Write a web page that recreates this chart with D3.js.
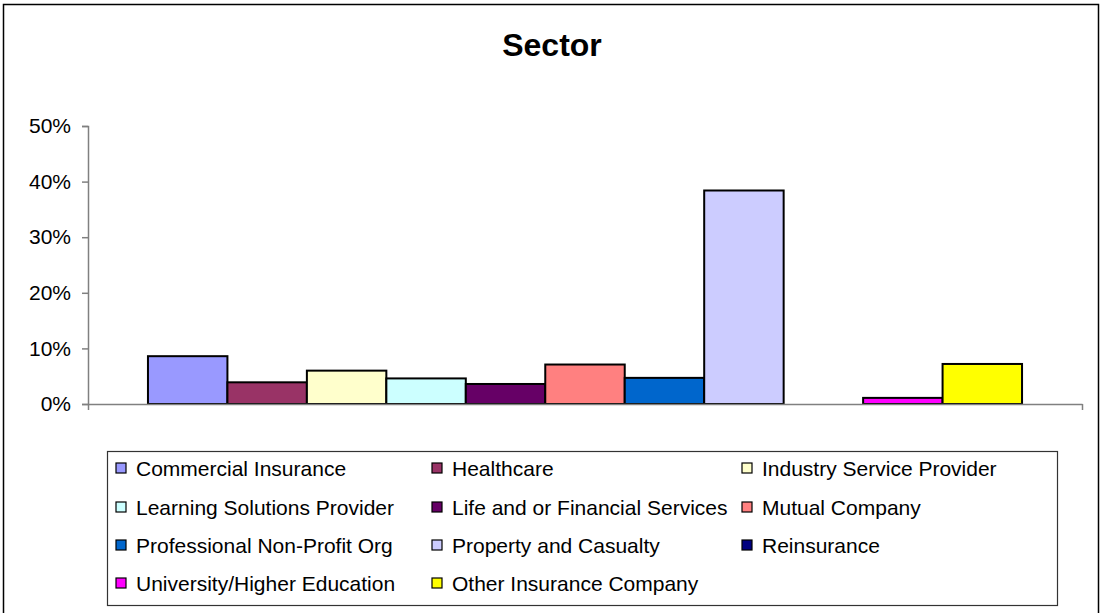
<!DOCTYPE html>
<html>
<head>
<meta charset="utf-8">
<script src="https://cdn.jsdelivr.net/npm/d3@7"></script>
<style>
  body { margin: 0; background: #fff; }
  text { font-family: "Liberation Sans", Arial, sans-serif; }
</style>
</head>
<body>
<svg id="chart"></svg>
<script>
const categories = ["Sector"];
const seriesNames = [
  "Commercial Insurance", "Healthcare", "Industry Service Provider",
  "Learning Solutions Provider", "Life and or Financial Services", "Mutual Company",
  "Professional Non-Profit Org", "Property and Casualty", "Reinsurance",
  "University/Higher Education", "Other Insurance Company"
];
const seriesValues = [0.086, 0.039, 0.060, 0.046, 0.036, 0.071, 0.047, 0.384, 0, 0.011, 0.072];
const seriesColors = [
  "#9999ff", "#993366", "#ffffcc", "#ccffff", "#660066", "#ff8080",
  "#0066cc", "#ccccff", "#000080", "#ff00ff", "#ffff00"
];
const yTicks = [0, 0.1, 0.2, 0.3, 0.4, 0.5];

const width = 1100, height = 613;
const plot = {left: 88, right: 1082, top: 126, bottom: 404};

const svg = d3.select("#chart").attr("width", width).attr("height", height);

// outer chart border
svg.append("rect")
  .attr("x", 3.5).attr("y", 4.5)
  .attr("width", 1095).attr("height", 620)
  .attr("fill", "none").attr("stroke", "#000").attr("stroke-width", 1.5);

svg.append("text")
  .attr("x", 552).attr("y", 56)
  .attr("text-anchor", "middle")
  .attr("font-size", "32px").attr("font-weight", "bold")
  .text("Sector");

const y = d3.scaleLinear().domain([0, 0.5]).range([plot.bottom, plot.top]);

const x0 = d3.scaleBand()
  .domain(categories)
  .range([plot.left, plot.right])
  .paddingOuter(0.0686)
  .paddingInner(0);

const x1 = d3.scaleBand()
  .domain(seriesNames)
  .range([0, x0.bandwidth()])
  .padding(0);

// y axis
const yAxis = d3.axisLeft(y)
  .tickValues(yTicks)
  .tickFormat(d3.format(".0%"))
  .tickSize(6)
  .tickPadding(11);

const gy = svg.append("g")
  .attr("transform", `translate(${plot.left},0)`)
  .call(yAxis);
gy.select(".domain").attr("stroke", "#808080").attr("stroke-width", 1.5);
gy.selectAll(".tick line").attr("stroke", "#808080").attr("stroke-width", 1.5);
gy.selectAll(".tick text")
  .attr("font-size", "21px")
  .attr("font-family", "Liberation Sans, Arial, sans-serif")
  .attr("fill", "#000");

// bars
const rows = seriesNames.map((name, i) => ({name, value: seriesValues[i], color: seriesColors[i]}));

const g = svg.selectAll(".cat")
  .data(categories)
  .enter()
  .append("g")
  .attr("class", "cat")
  .attr("transform", (d) => `translate(${x0(d)},0)`);

g.selectAll("rect")
  .data(rows.filter((d) => d.value > 0))
  .enter()
  .append("rect")
  .attr("x", (d) => x1(d.name))
  .attr("y", (d) => y(d.value))
  .attr("width", x1.bandwidth())
  .attr("height", (d) => y(0) - y(d.value))
  .attr("fill", (d) => d.color)
  .attr("stroke", "#000")
  .attr("stroke-width", 2);

// x axis line with end ticks
const xAxis = d3.axisBottom(d3.scaleLinear().domain([0, 1]).range([plot.left, plot.right]))
  .tickValues([0, 1])
  .tickFormat("")
  .tickSize(6)
  .tickSizeOuter(0);
const gx = svg.append("g")
  .attr("transform", `translate(0,${plot.bottom})`)
  .call(xAxis);
gx.select(".domain").attr("stroke", "#808080").attr("stroke-width", 1.5);
gx.selectAll(".tick line").attr("stroke", "#808080").attr("stroke-width", 1.5);

// legend
const legend = {x: 107.5, y: 451.5, w: 950, h: 154};
svg.append("rect")
  .attr("x", legend.x).attr("y", legend.y)
  .attr("width", legend.w).attr("height", legend.h)
  .attr("fill", "#fff").attr("stroke", "#333").attr("stroke-width", 1.2);

const colX = [116, 432, 742];
const rowY = [468, 507, 545, 583];

const items = svg.selectAll(".legend-item")
  .data(rows)
  .enter()
  .append("g")
  .attr("class", "legend-item")
  .attr("transform", (d, i) => `translate(${colX[i % 3]},${rowY[Math.floor(i / 3)]})`);

items.append("rect")
  .attr("x", 0).attr("y", -5)
  .attr("width", 10).attr("height", 10)
  .attr("fill", (d) => d.color)
  .attr("stroke", "#000").attr("stroke-width", 1.2);

items.append("text")
  .attr("x", 20).attr("y", 0)
  .attr("dominant-baseline", "central")
  .attr("font-size", "21px")
  .attr("fill", "#000")
  .text((d) => d.name);
</script>
</body>
</html>
